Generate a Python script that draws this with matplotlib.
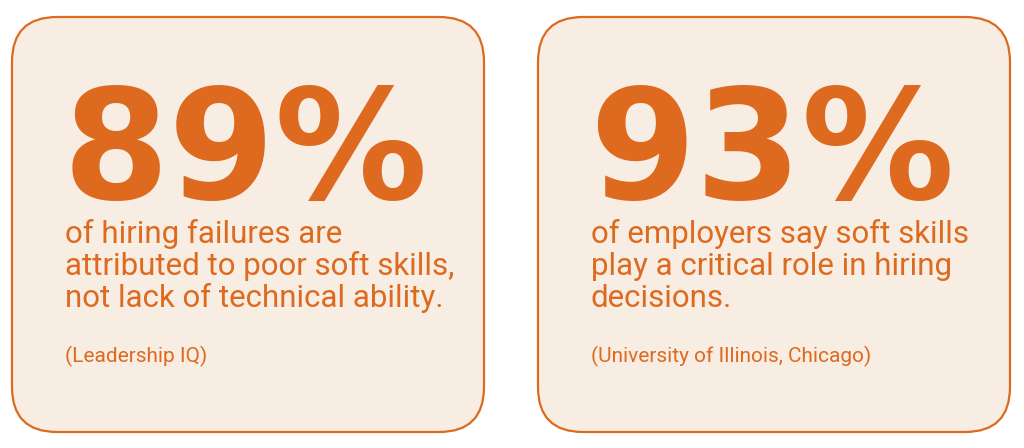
import matplotlib
matplotlib.use('Agg')
import matplotlib.pyplot as plt
from matplotlib.patches import FancyBboxPatch

# card contents
stats = ['89%', '93%']
bodies = [
    ['of hiring failures are', 'attributed to poor soft skills,', 'not lack of technical ability.'],
    ['of employers say soft skills', 'play a critical role in hiring', 'decisions.'],
]
sources = ['(Leadership IQ)', '(University of Illinois, Chicago)']

orange = '#DD6A1E'
fill = '#F7EDE3'

fig = plt.figure(figsize=(10.24, 4.48), dpi=100, facecolor='white')
ax = fig.add_axes([0, 0, 1, 1])
ax.set_xlim(0, 1024)
ax.set_ylim(448, 0)
ax.axis('off')

card_x = [12, 538]
for i, x0 in enumerate(card_x):
    ax.add_patch(FancyBboxPatch((x0 + 45, 17 + 45), 472 - 90, 415 - 90,
                                boxstyle='round,pad=45', facecolor=fill,
                                edgecolor=orange, linewidth=1.6))
    tx = x0 + 53
    ax.text(tx - 2, 199, stats[i], fontsize=110, fontweight='bold',
            family='DejaVu Sans', color=orange, va='baseline', ha='left')
    for j, line in enumerate(bodies[i]):
        ax.text(tx, 243 + 32 * j, line, fontsize=22.5, family='Roboto',
                color=orange, va='baseline', ha='left')
    ax.text(tx, 362, sources[i], fontsize=15, family='Roboto',
            color=orange, va='baseline', ha='left')

fig.savefig('out.png', dpi=100, facecolor='white')
